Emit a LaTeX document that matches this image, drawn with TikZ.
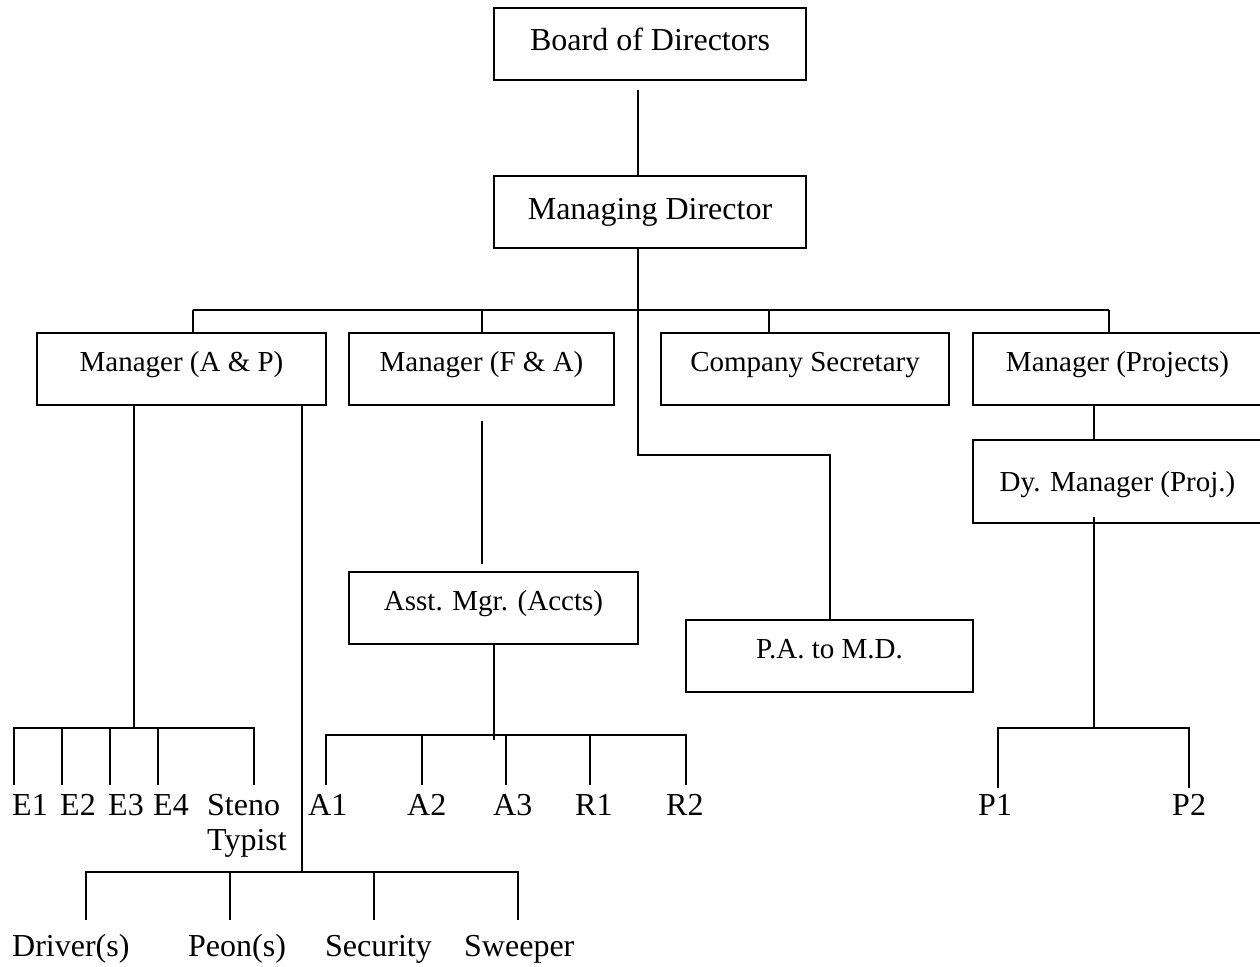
\documentclass[tikz,border=0pt]{standalone}
\usepackage{fontspec}
\setmainfont{Liberation Serif}
\tikzset{
  box/.style={draw, line width=1.6pt, minimum height=72pt, inner sep=0pt,
    font=\fontsize{29}{33}\selectfont, text height=20pt, text depth=15pt},
  bigbox/.style={box, font=\fontsize{32}{36}\selectfont, text height=22pt, text depth=8pt},
  conn/.style={line width=1.6pt},
  lbl/.style={anchor=base west, inner sep=0pt, font=\fontsize{32}{35}\selectfont, align=left}
}
\begin{document}
\begin{tikzpicture}[x=1pt, y=-1pt]
\useasboundingbox (0,0) rectangle (1260,966);
% boxes
\node[bigbox, minimum width=312pt] (bod) at (650,44) {Board of Directors};
\node[bigbox, minimum width=312pt] (md) at (650,212) {Managing Director};
\node[box, minimum width=289pt] (map) at (181.5,369) {Manager (A \& P)};
\node[box, minimum width=265pt] (mfa) at (481.5,369) {Manager (F \& A)};
\node[box, minimum width=288pt] (cs) at (805,369) {Company Secretary};
\node[box, minimum width=289pt] (mpr) at (1117.5,369) {Manager (Projects)};
\node[box, minimum width=289pt, minimum height=83pt, text depth=1pt] (dy) at (1117.5,481.5) {Dy. Manager (Proj.)};
\node[box, minimum width=289pt] (asst) at (493.5,608) {Asst. Mgr. (Accts)};
\node[box, minimum width=287pt] (pa) at (829.5,656) {P.A. to M.D.};
% coordinates
\coordinate (mdx) at (638,0);
\coordinate (turn) at (638,455);
\coordinate (pax) at (830,455);
\coordinate (b1) at (193,310);
\coordinate (b2) at (482,310);
\coordinate (b3) at (769,310);
\coordinate (b4) at (1109,310);
\coordinate (px) at (1094,0);
\coordinate (ex) at (134,0);
\coordinate (sx) at (302,0);
\coordinate (fx) at (482,0);
\coordinate (ax) at (494,0);
% top connectors
\draw[conn, shorten <=9pt] (bod.south -| mdx) -- (md.north -| mdx);
\draw[conn] (md.south -| mdx) -- (turn) -- (pax) -- (pa.north -| pax);
\draw[conn] (b1) -- (b4);
\foreach \b/\n in {b1/map, b2/mfa, b3/cs, b4/mpr}
  \draw[conn] (\b) -- (\b |- \n.north);
% projects
\draw[conn] (mpr.south -| px) -- (dy.north -| px);
\draw[conn] ([yshift=7pt]dy.south -| px) -- (1094,728);
\draw[conn] (998,788) -- (998,728) -- (1189,728) -- (1189,788);
% F&A
\draw[conn, shorten <=15pt, shorten >=7pt] (mfa.south -| fx) -- (asst.north -| fx);
\draw[conn] (asst.south -| ax) -- (494,740);
\draw[conn] (326,785) -- (326,735) -- (686,735) -- (686,785);
\foreach \x in {422,506,590} \draw[conn] (\x,735) -- (\x,785);
% A&P
\draw[conn] (map.south -| ex) -- (134,728);
\draw[conn] (14,785) -- (14,728) -- (254,728) -- (254,785);
\foreach \x in {62,110,158} \draw[conn] (\x,728) -- (\x,785);
\draw[conn] (map.south -| sx) -- (302,872);
\draw[conn] (86,920) -- (86,872) -- (518,872) -- (518,920);
\foreach \x in {230,374} \draw[conn] (\x,872) -- (\x,920);
% labels
\node[lbl] (e1) at (12,815) {E1};
\node[lbl] (e2) at (60,815) {E2};
\node[lbl] (e3) at (108,815) {E3};
\node[lbl] (e4) at (153,815) {E4};
\node[lbl] (st) at (207,850) {Steno\\Typist};
\node[lbl] (a1) at (308,815) {A1};
\node[lbl] (a2) at (407,815) {A2};
\node[lbl] (a3) at (493,815) {A3};
\node[lbl] (r1) at (575,815) {R1};
\node[lbl] (r2) at (666,815) {R2};
\node[lbl] (p1) at (978,815) {P1};
\node[lbl] (p2) at (1172,815) {P2};
\node[lbl] (dr) at (12,956) {Driver(s)};
\node[lbl] (pe) at (188,956) {Peon(s)};
\node[lbl] (se) at (325,956) {Security};
\node[lbl] (sw) at (464,956) {Sweeper};
\end{tikzpicture}
\end{document}
